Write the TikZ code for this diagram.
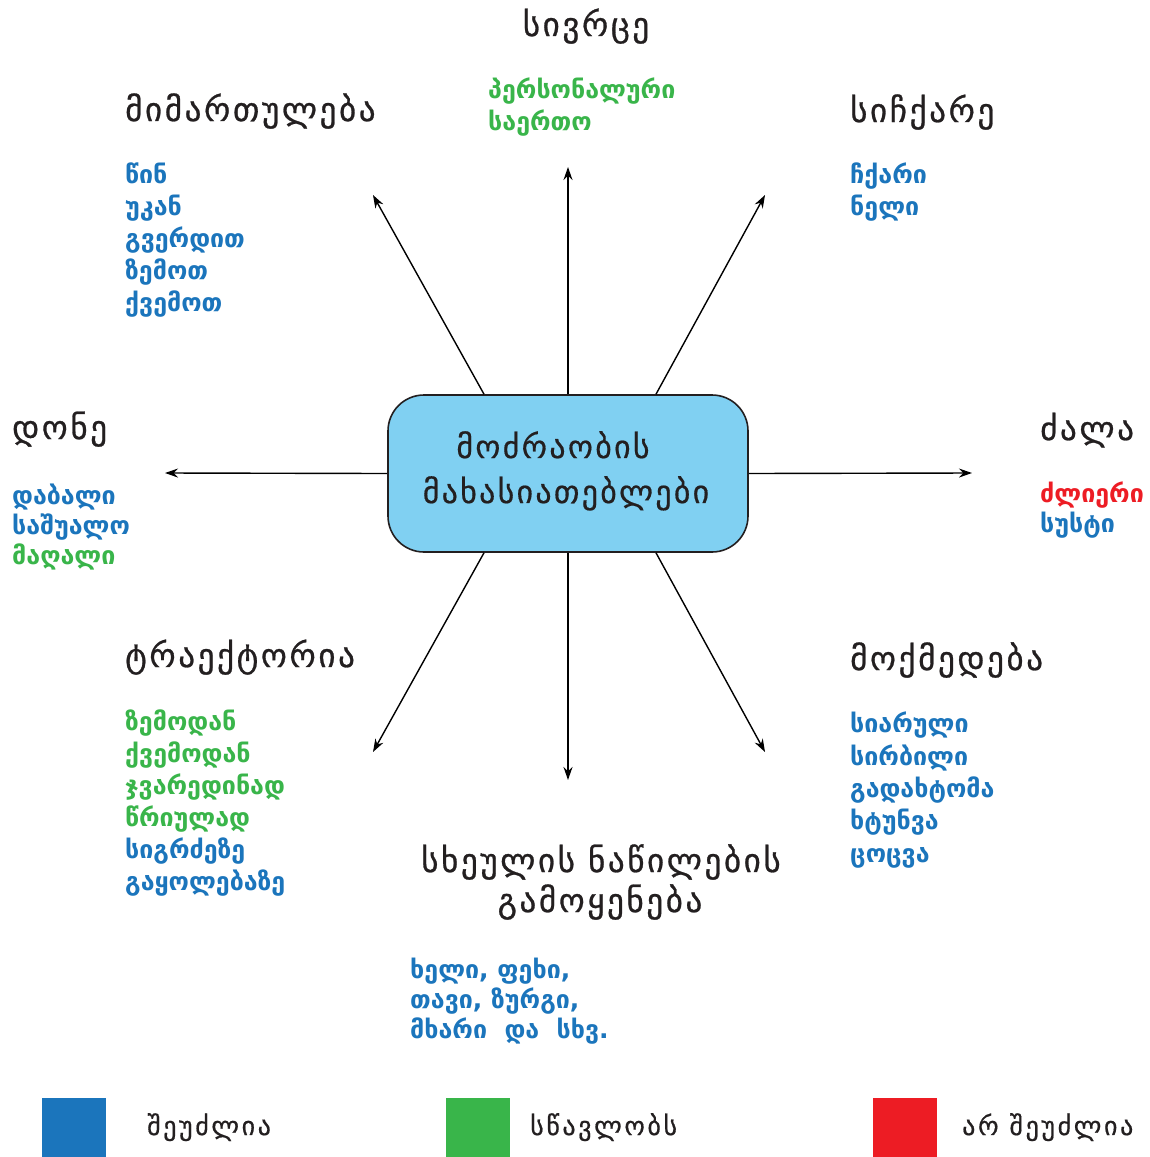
\documentclass[tikz,border=0pt]{standalone}
\usepackage{fontspec}
\setmainfont{DejaVu Sans}
\newfontfamily\geofam{DejaVu Sans}
\newfontfamily\hdfam[LetterSpace=8,FakeBold=0.8]{DejaVu Sans}
\newfontfamily\ctfam[LetterSpace=7,FakeBold=0.5]{DejaVu Sans}
\newfontfamily\lgfam[LetterSpace=10,FakeBold=0.6]{DejaVu Sans}
\usetikzlibrary{arrows.meta,calc}
\definecolor{cblue}{HTML}{1B75BC}
\definecolor{cgreen}{HTML}{39B54A}
\definecolor{cred}{HTML}{ED1C24}
\definecolor{cbox}{HTML}{80D0F2}
\definecolor{cdark}{HTML}{231F20}
\newcommand\hdfont{\hdfam\fontsize{33}{35}\selectfont}
\newcommand\itfont{\geofam\bfseries\fontsize{25}{28}\selectfont}
\newcommand\ctfont{\ctfam\fontsize{32}{34}\selectfont}
\newcommand\lgfont{\lgfam\fontsize{26}{28}\selectfont}
\begin{document}
\begin{tikzpicture}[x=1pt,y=-1pt,
  hd/.style={font=\hdfont, text=cdark, inner sep=0pt, anchor=base west},
  itm/.style={font=\itfont, inner sep=0pt, anchor=base west},
  arr/.style={draw=black, line width=1.4pt, -{Stealth[length=13pt,width=9pt]}},
  lg/.style={font=\lgfont, text=cdark, inner sep=0pt, anchor=base west},
  sq/.style={minimum width=64pt, minimum height=60pt, inner sep=0pt, anchor=north west}]
\useasboundingbox (0,0) rectangle (1149,1157);
\fill[white] (0,0) rectangle (1149,1157);

% centre box
\node[draw=cdark, line width=1.6pt, fill=cbox, rounded corners=36pt,
      minimum width=360pt, minimum height=157pt, inner sep=0pt] (box) at (568,473.5) {};
\node[font=\ctfont, text=cdark, inner sep=0pt, anchor=base] (c1) at (553,458) {მოძრაობის};
\node[font=\ctfont, text=cdark, inner sep=0pt, anchor=base] (c2) at (566,503) {მახასიათებლები};

% arrow end points
\coordinate (eN)  at (568,167);
\coordinate (eNW) at (373,195);
\coordinate (eNE) at (765,195);
\coordinate (eW)  at (165,473);
\coordinate (eE)  at (972,473);
\coordinate (eS)  at (568,780);
\coordinate (eSW) at (373,752);
\coordinate (eSE) at (765,752);

\draw[arr] (box.north) -- (eN);
\draw[arr] ([xshift=-84pt]box.north) -- (eNW);
\draw[arr] ([xshift=88pt]box.north) -- (eNE);
\draw[arr] (box.west) -- (eW);
\draw[arr] (box.east) -- (eE);
\draw[arr] (box.south) -- (eS);
\draw[arr] ([xshift=-84pt]box.south) -- (eSW);
\draw[arr] ([xshift=88pt]box.south) -- (eSE);

% headings
\node[hd, anchor=base] (hSp) at (586,36) {სივრცე};
\node[hd] (hDir) at (125,121) {მიმართულება};
\node[hd] (hSpd) at (850,122) {სიჩქარე};
\node[hd] (hLev) at (12,439) {დონე};
\node[hd] (hFor) at (1040,440) {ძალა};
\node[hd] (hTr) at (125,667) {ტრაექტორია};
\node[hd] (hAct) at (850,670) {მოქმედება};
\node[hd, anchor=base] (hB1) at (601,872) {სხეულის ნაწილების};
\node[hd, anchor=base] (hB2) at (600,912) {გამოყენება};

% space
\node[itm, text=cgreen] (sp1) at (488,98) {პერსონალური};
\node[itm, text=cgreen] (sp2) at (488,130) {საერთო};
% direction
\node[itm, text=cblue] (d1) at (125,183) {წინ};
\node[itm, text=cblue] (d2) at (125,215) {უკან};
\node[itm, text=cblue] (d3) at (125,247) {გვერდით};
\node[itm, text=cblue] (d4) at (125,279) {ზემოთ};
\node[itm, text=cblue] (d5) at (125,311) {ქვემოთ};
% speed
\node[itm, text=cblue] (s1) at (850,183) {ჩქარი};
\node[itm, text=cblue] (s2) at (850,215) {ნელი};
% level
\node[itm, text=cblue] (l1) at (12,504) {დაბალი};
\node[itm, text=cblue] (l2) at (12,534) {საშუალო};
\node[itm, text=cgreen] (l3) at (12,564) {მაღალი};
% force
\node[itm, text=cred] (f1) at (1040,502) {ძლიერი};
\node[itm, text=cblue] (f2) at (1040,532) {სუსტი};
% trajectory
\node[itm, text=cgreen] (t1) at (125,730) {ზემოდან};
\node[itm, text=cgreen] (t2) at (125,762) {ქვემოდან};
\node[itm, text=cgreen] (t3) at (125,794) {ჯვარედინად};
\node[itm, text=cgreen] (t4) at (125,826) {წრიულად};
\node[itm, text=cblue] (t5) at (125,858) {სიგრძეზე};
\node[itm, text=cblue] (t6) at (125,890) {გაყოლებაზე};
% action
\node[itm, text=cblue] (a1) at (850,732) {სიარული};
\node[itm, text=cblue] (a2) at (850,765) {სირბილი};
\node[itm, text=cblue] (a3) at (850,797) {გადახტომა};
\node[itm, text=cblue] (a4) at (850,829) {ხტუნვა};
\node[itm, text=cblue] (a5) at (850,862) {ცოცვა};
% body parts
\node[itm, text=cblue] (b1) at (410,978) {ხელი, ფეხი,};
\node[itm, text=cblue] (b2) at (410,1008) {თავი, ზურგი,};
\node[itm, text=cblue] (b3) at (410,1038) {მხარი\ \ და\ \ სხვ.};

% legend
\node[sq, fill=cblue] (q1) at (42,1098) {};
\node[sq, fill=cgreen] (q2) at (446,1098) {};
\node[sq, fill=cred] (q3) at (873,1098) {};
\node[lg] (g1) at (147,1135) {შეუძლია};
\node[lg] (g2) at (530,1135) {სწავლობს};
\node[lg] (g3) at (962,1135) {არ შეუძლია};
\end{tikzpicture}
\end{document}
